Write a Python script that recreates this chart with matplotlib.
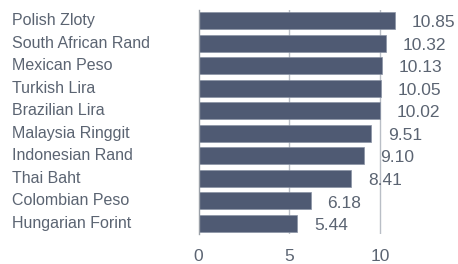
import matplotlib.pyplot as plt
from matplotlib.transforms import blended_transform_factory

# data
currencies = ["Polish Zloty", "South African Rand", "Mexican Peso", "Turkish Lira",
              "Brazilian Lira", "Malaysia Ringgit", "Indonesian Rand", "Thai Baht",
              "Colombian Peso", "Hungarian Forint"]
values = [10.85, 10.32, 10.13, 10.05, 10.02, 9.51, 9.10, 8.41, 6.18, 5.44]
xticks = [0, 5, 10]

plt.rcParams['font.family'] = ['Liberation Sans', 'DejaVu Sans']
txt_color = "#5b6472"
bar_color = "#4f5a73"
grid_color = "#b9bec6"

fig = plt.figure(figsize=(4.58, 2.64), dpi=100)
ax = fig.add_axes([198.5 / 458, 1 - 234 / 264, 1 - 198.5 / 458, 224 / 264])

y = list(range(len(currencies)))
ax.barh(y, values, height=0.75, color=bar_color, edgecolor="#8a93a5",
        linewidth=0.5, zorder=2)
ax.set_ylim(len(currencies) - 1 + 0.465, -0.465)
ax.set_xlim(0, 14.3)

# value labels
for yi, v in zip(y, values):
    ax.annotate(f"{v:.2f}", (v, yi), xytext=(12, -1.5), textcoords="offset points",
                ha="left", va="center", fontsize=12.5, color=txt_color)

# category labels, left aligned at the figure edge
trans = blended_transform_factory(fig.transFigure, ax.transData)
for yi, name in zip(y, currencies):
    ax.text(12 / 458, yi, name, transform=trans, ha="left", va="center",
            fontsize=11.5, color=txt_color)
ax.set_yticks([])

ax.set_xticks(xticks)
ax.tick_params(axis="x", length=0, pad=11, labelsize=12.5, labelcolor=txt_color)
for xv in xticks[1:]:
    ax.axvline(xv, color=grid_color, linewidth=1, zorder=1)

for s in ["top", "right", "bottom"]:
    ax.spines[s].set_visible(False)
ax.spines["left"].set_color("#9aa0a8")
ax.spines["left"].set_linewidth(1)

fig.savefig("out.png", dpi=100)
